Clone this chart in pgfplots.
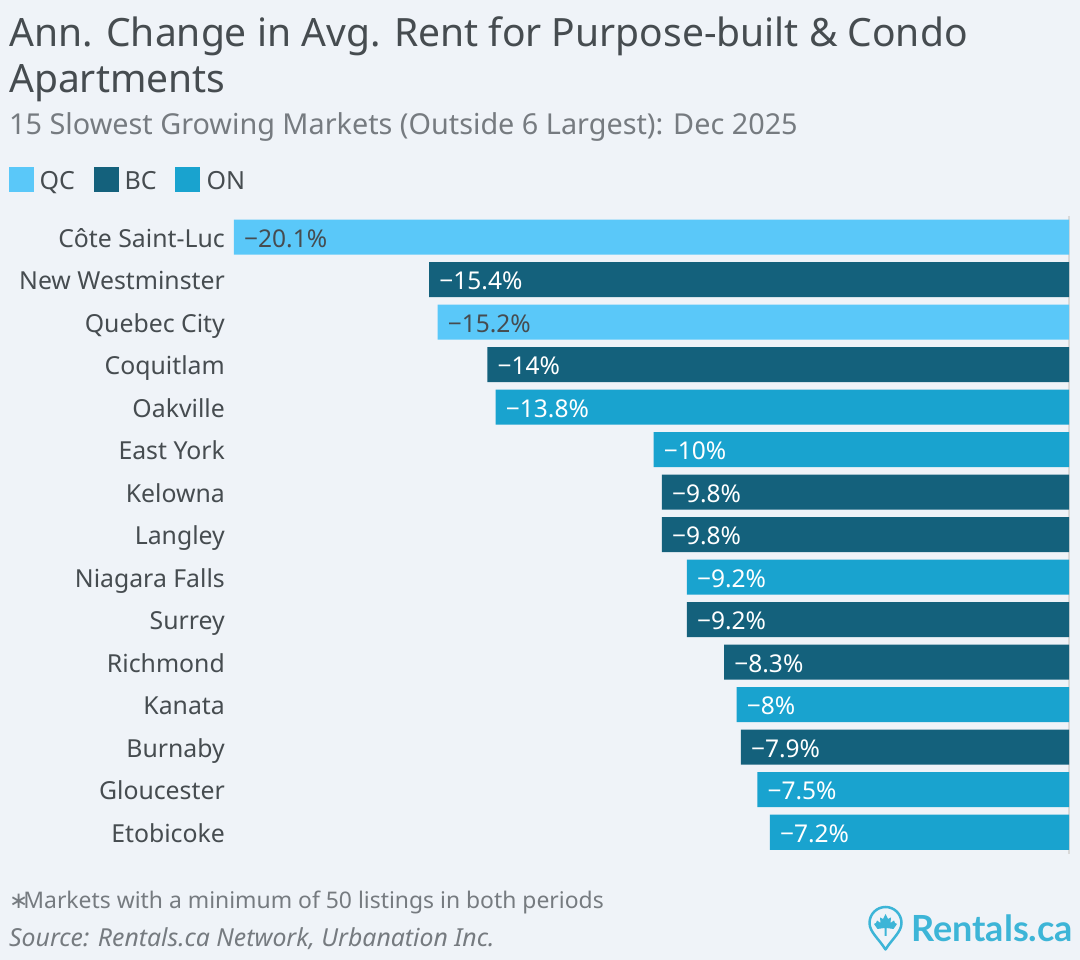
\documentclass[border=0pt]{standalone}
\usepackage{fontspec}
\setmainfont{Noto Sans}
\newfontfamily\logofont{Lato}
\newfontfamily\symfont{DejaVu Sans}
\usepackage{pgfplots}
\pgfplotsset{compat=1.18}
\definecolor{bg}{HTML}{EFF3F8}
\definecolor{qc}{HTML}{5AC8F9}
\definecolor{bc}{HTML}{14617C}
\definecolor{on}{HTML}{19A3CF}
\definecolor{ink}{HTML}{464C50}
\definecolor{subink}{HTML}{767B80}
\definecolor{logo}{HTML}{3DB5D7}
\newcommand{\fsz}[1]{\fontsize{#1}{#1}\selectfont}
\begin{document}
\begin{tikzpicture}[x=1pt,y=1pt]
\useasboundingbox (0,0) rectangle (1080,960);
\fill[bg] (0,0) rectangle (1080,960);
% titles
\node[anchor=base west,inner sep=0,text=ink,font=\fsz{39}] at (9,913.5) {Ann. Change in Avg. Rent for Purpose-built \& Condo};
\node[anchor=base west,inner sep=0,text=ink,font=\fsz{39}] at (9,867.5) {Apartments};
\node[anchor=base west,inner sep=0,text=subink,font=\fsz{28.8}] at (9,825) {15 Slowest Growing Markets (Outside 6 Largest): Dec 2025};
% legend
\fill[qc] (9,768) rectangle (34,793);
\node[anchor=base west,inner sep=0,text=ink,font=\fsz{25}] at (39.5,770.5) {QC};
\fill[bc] (94,768) rectangle (119,793);
\node[anchor=base west,inner sep=0,text=ink,font=\fsz{25}] at (124.5,770.5) {BC};
\fill[on] (175,768) rectangle (200,793);
\node[anchor=base west,inner sep=0,text=ink,font=\fsz{25}] at (206.5,770.5) {ON};
\begin{axis}[
	at={(234pt,106.5pt)},anchor=south west,
	scale only axis,width=835pt,height=637.5pt,
	xmin=-20.1,xmax=0,ymin=-0.5,ymax=14.5,
	y dir=reverse,
	axis line style={draw=none},
	xtick={0},xticklabels={},xmajorgrids,
	major grid style={draw=black!15,line width=1.5pt},
	major tick length=0pt,
	ytick={0,...,14},
	yticklabels={C\^ote Saint-Luc,New Westminster,Quebec City,Coquitlam,Oakville,East York,Kelowna,Langley,Niagara Falls,Surrey,Richmond,Kanata,Burnaby,Gloucester,Etobicoke},
	yticklabel style={font=\fsz{24.8},text=ink,inner sep=0pt,xshift=-9pt,yshift=-1pt,text height=18pt,text depth=0pt},
	xbar,bar width=35pt,bar shift=0pt,
	point meta=explicit symbolic,
	nodes near coords,
	every node near coord/.append style={font=\fsz{24.5},anchor=west,inner sep=0pt,xshift=10pt,yshift=-1pt,text height=18pt,text depth=0pt},
]
\addplot[draw=none,fill=qc,nodes near coords style={text=ink}] coordinates {
(-20.1,0)[−20.1\%]
(-15.2,2)[−15.2\%]
};
\addplot[draw=none,fill=bc,nodes near coords style={text=white}] coordinates {
(-15.4,1)[−15.4\%]
(-14,3)[−14\%]
(-9.8,6)[−9.8\%]
(-9.8,7)[−9.8\%]
(-9.2,9)[−9.2\%]
(-8.3,10)[−8.3\%]
(-7.9,12)[−7.9\%]
};
\addplot[draw=none,fill=on,nodes near coords style={text=white}] coordinates {
(-13.8,4)[−13.8\%]
(-10,5)[−10\%]
(-9.2,8)[−9.2\%]
(-8,11)[−8\%]
(-7.5,13)[−7.5\%]
(-7.2,14)[−7.2\%]
};
\end{axis}
% footer
\node[anchor=base west,inner sep=0,text=subink,font=\fsz{22.9}] at (9,51) {{\symfont ∗}\kern-5ptMarkets with a minimum of 50 listings in both periods};
\node[anchor=base west,inner sep=0,text=subink,font=\fsz{24.8}\itshape] at (9,13.5) {Source: Rentals.ca Network, Urbanation Inc.};
% logo
\draw[logo,line width=2.5pt,line join=round] (885.5,10.5) .. controls (879,21) and (869.5,28) .. (869.5,37)
	arc[start angle=180,end angle=0,radius=16] .. controls (901.5,28) and (892,21) .. (885.5,10.5) -- cycle;
\fill[logo] (885.5,46) -- (888,41) -- (891,42.5) -- (890.5,37) -- (894,39.5) -- (895,37) -- (897,36) -- (893.5,31) -- (886.5,32) -- (886.5,24) -- (884.5,24) -- (884.5,32) -- (877.5,31) -- (874,36) -- (876,37) -- (877,39.5) -- (880.5,37) -- (880,42.5) -- (883,41) -- cycle;
\node[anchor=base west,inner sep=0,text=logo,font=\logofont\bfseries\fsz{36}] at (911,18) {Rentals.ca};
\end{tikzpicture}
\end{document}
